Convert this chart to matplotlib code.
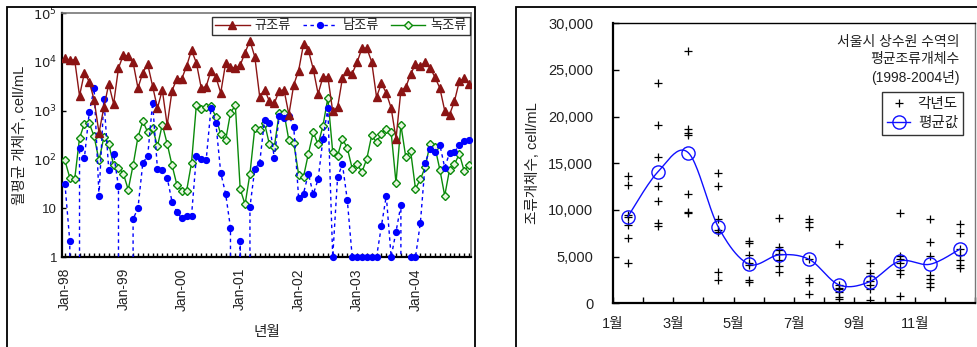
import numpy as np
import matplotlib
matplotlib.use('Agg')
import matplotlib.pyplot as plt
from matplotlib.lines import Line2D
from matplotlib.patches import Rectangle
from matplotlib.ticker import FixedLocator, MultipleLocator, FuncFormatter

plt.rcParams['font.family'] = ['Liberation Sans', 'Noto Sans CJK KR']
TXT = '#222222'

# ---- left: monthly mean counts, Jan-98 .. Dec-04 (84 months) ----
year_ticks = ['Jan-98', 'Jan-99', 'Jan-00', 'Jan-01', 'Jan-02', 'Jan-03', 'Jan-04']

diatom = [12000, 10700, 11000, 2000, 6000, 3900, 1650, 350, 1170, 3500, 1380, 7400,
          13900, 12900, 9700, 2900, 6000, 8900, 3200, 1120, 2650, 500, 2570, 4500,
          4500, 8200, 17300, 9500, 2900, 3100, 6600, 4900, 2300, 9300, 7900, 7300,
          8500, 15500, 27000, 12600, 1940, 2700, 1550, 1400, 2570, 2650, 830, 3400,
          6600, 23000, 17300, 7100, 2200, 4900, 4900, 970, 1170, 4650, 6600, 5750,
          9700, 19000, 19000, 10000, 1900, 3600, 2300, 1130, 265, 2570, 3000, 5600,
          8900, 8300, 9700, 7600, 4800, 2900, 1000, 830, 1550, 4000, 4600, 3500]

bluegreen = [32, 2.1, 0, 173, 107, 930, 2870, 18, 1740, 62, 130, 28,
             0, 0, 6, 10, 85, 117, 1440, 65, 62, 42, 13.5, 8.4,
             6.2, 7, 7, 117, 100, 95, 1130, 560, 53, 20, 4, 0,
             2.1, 0, 10.5, 65, 85, 645, 550, 107, 760, 710, 790, 460,
             16, 20, 51, 19.4, 39, 265, 1120, 1, 44, 79, 14.5, 1,
             1, 1, 1, 1, 1, 4.3, 18, 1, 3.3, 11.5, 0, 1,
             1, 5, 85, 165, 145, 200, 68, 135, 141, 200, 234, 245]

green = [95, 42, 39, 275, 535, 550, 295, 95, 287, 210, 76, 68,
         51, 24, 76, 287, 605, 360, 445, 185, 515, 210, 76, 30,
         23, 23, 85, 1320, 1080, 1170, 1250, 730, 325, 245, 890, 1290,
         24.5, 12, 51, 445, 405, 550, 203, 178, 890, 890, 245, 215,
         49, 44, 130, 360, 203, 490, 1820, 141, 120, 263, 170, 65,
         81, 55, 103, 310, 225, 333, 425, 360, 33, 510, 112, 148,
         25, 39, 70, 210, 178, 62, 18, 62, 79, 130, 58, 76]

# ---- right: yearly values per calendar month and their mean ----
month_labels = ['1월', '', '3월', '', '5월', '', '7월', '', '9월', '', '11월', '', '']
yearly_counts = [
    [13640, 12680, 9500, 9300, 8390, 7030, 4290],
    [23570, 19100, 15710, 12570, 10960, 8640, 8280],
    [27030, 18640, 18280, 18030, 11680, 9750, 9640],
    [14000, 12570, 9000, 7850, 7670, 3390, 2500],
    [6670, 6430, 5180, 4290, 4100, 2500, 2250],
    [9170, 6070, 5710, 5250, 4640, 4000, 3390],
    [9030, 8680, 8210, 4800, 2680, 2320, 1000],
    [6320, 1960, 1610, 1500, 1250, 710, 430],
    [4290, 3280, 2930, 2420, 1960, 1500, 350],
    [9640, 5070, 4710, 4300, 3570, 3140, 780],
    [9030, 6600, 5070, 3030, 2570, 2140, 1710],
    [8500, 7500, 5820, 5180, 4640, 4100, 3750],
]
mean_counts = [9280, 14100, 16140, 8140, 4210, 5180, 4710, 1960, 2310, 4530, 4180, 5820]


def smooth(xs, ys, n=24):
    # excel-like smoothed line (catmull-rom as cubic bezier)
    px = np.r_[xs[0], xs, xs[-1]].astype(float)
    py = np.r_[ys[0], ys, ys[-1]].astype(float)
    ox, oy = [], []
    t = np.linspace(0, 1, n)
    for i in range(1, len(px) - 2):
        for p, o in ((px, ox), (py, oy)):
            b0 = p[i]
            b1 = p[i] + (p[i + 1] - p[i - 1]) / 6
            b2 = p[i + 1] - (p[i + 2] - p[i]) / 6
            b3 = p[i + 1]
            o.extend((1 - t) ** 3 * b0 + 3 * (1 - t) ** 2 * t * b1 + 3 * (1 - t) * t ** 2 * b2 + t ** 3 * b3)
    return ox, oy


fig = plt.figure(figsize=(9.77, 3.47), dpi=100)
W, H = 977.0, 347.0

# panel frames
fig.add_artist(Rectangle((7 / W, -0.1), 468 / W, 1.1 - 7 / H, transform=fig.transFigure,
                         fill=False, lw=1.3, ec='black'))
fig.add_artist(Rectangle((516 / W, -0.1), 0.6, 1.1 - 7 / H, transform=fig.transFigure,
                         fill=False, lw=1.3, ec='black'))

# ---------------- left panel ----------------
ax = fig.add_axes([62 / W, 1 - 257 / H, 409 / W, 244 / H])
x = np.arange(len(diatom))
c_red, c_blue, c_green = '#8b1414', '#0000ff', '#0a8a0a'

ax.plot(x, green, color=c_green, lw=1.0, marker='D', ms=4.2, mfc='#e8f5e0', mec=c_green, mew=1.0, zorder=3)
ax.plot(x, bluegreen, color=c_blue, lw=1.0, ls=(0, (2.5, 2.5)), zorder=4)
bg = np.array(bluegreen, float)
pos = bg > 0
ax.plot(x[pos], bg[pos], ls='none', marker='o', ms=4.2, color=c_blue, clip_on=False, zorder=5)
ax.plot(x, diatom, color=c_red, lw=1.0, marker='^', ms=5.5, zorder=6)

ax.set_yscale('log')
ax.set_ylim(1, 1e5)
ax.set_xlim(-0.6, 83.4)
ax.yaxis.set_major_locator(FixedLocator([1, 10, 100, 1e3, 1e4, 1e5]))
ax.yaxis.set_minor_locator(FixedLocator([]))
ax.set_yticklabels(['1', '10', '$10^2$', '$10^3$', '$10^4$', '$10^5$'])
ax.set_xticks(np.arange(0, 84, 12))
ax.set_xticklabels(year_ticks, rotation=90)
ax.xaxis.set_minor_locator(MultipleLocator(1))
ax.tick_params(axis='both', which='both', direction='in', length=3, width=1, colors='black',
               labelcolor=TXT, labelsize=9.5)
ax.tick_params(axis='x', labelsize=10, pad=8)
for s in ('left', 'bottom'):
    ax.spines[s].set_linewidth(1.6)
for s in ('top', 'right'):
    ax.spines[s].set_color('#777777')
    ax.spines[s].set_linewidth(1.2)
ax.set_ylabel('월평균 개체수, cell/mL', fontsize=10.5, color=TXT, labelpad=4)
ax.set_xlabel('년월', fontsize=10.5, color=TXT, labelpad=10)

handles = [Line2D([], [], color=c_red, lw=1.0, marker='^', ms=5.5),
           Line2D([], [], color=c_blue, lw=1.0, ls=(0, (2.5, 2.5)), marker='o', ms=4.2),
           Line2D([], [], color=c_green, lw=1.0, marker='D', ms=4.2, mfc='#e8f5e0', mec=c_green)]
leg = ax.legend(handles, ['규조류', '남조류', '녹조류'], ncol=3, loc='upper right',
                bbox_to_anchor=(0.998, 0.985), borderaxespad=0, fontsize=9.5, frameon=True,
                fancybox=False, edgecolor='black', handlelength=2.6, handletextpad=0.4,
                columnspacing=0.9, borderpad=0.25, labelcolor=TXT)
leg.get_frame().set_linewidth(1.0)

# ---------------- right panel ----------------
ax2 = fig.add_axes([612.7 / W, 1 - 303.3 / H, 362.6 / W, 280 / H])
for m, vals in enumerate(yearly_counts):
    ax2.plot([m + 1.5] * len(vals), vals, ls='none', marker='+', ms=6, mew=0.9, color='black', zorder=3)
mx = np.arange(1, 13) + 0.5
sx, sy = smooth(mx, mean_counts)
ax2.plot(sx, sy, color='#1010ff', lw=1.0, zorder=4)
ax2.plot(mx, mean_counts, ls='none', marker='o', ms=9.5, mfc='none', mec='#1010ff', mew=1.0, zorder=5)

ax2.set_xlim(1, 13)
ax2.set_ylim(0, 30000)
ax2.set_xticks(np.arange(1, 14))
ax2.set_xticklabels(month_labels)
ax2.yaxis.set_major_locator(MultipleLocator(5000))
ax2.yaxis.set_major_formatter(FuncFormatter(lambda v, p: f'{int(v):,}'))
ax2.tick_params(axis='both', direction='in', length=4, width=1, labelcolor=TXT, labelsize=10.5)
ax2.tick_params(axis='y', pad=14)
ax2.tick_params(axis='x', pad=10)
for s in ('left', 'bottom'):
    ax2.spines[s].set_linewidth(1.6)
ax2.spines['top'].set_linewidth(1.0)
ax2.spines['right'].set_color('#777777')
ax2.spines['right'].set_linewidth(1.0)
ax2.set_ylabel('조류개체수, cell/mL', fontsize=10.5, color=TXT, labelpad=6)

ax2.text(0.957, 0.958, '서울시 상수원 수역의\n평균조류개체수\n(1998-2004년)', transform=ax2.transAxes,
         ha='right', va='top', fontsize=10, color=TXT, linespacing=1.3)
h2 = [Line2D([], [], ls='none', marker='+', ms=6, mew=0.9, color='black'),
      Line2D([], [], color='#1010ff', lw=1.0, marker='o', ms=9.5, mfc='none', mec='#1010ff')]
leg2 = ax2.legend(h2, ['각년도', '평균값'], loc='upper right', bbox_to_anchor=(0.966, 0.756),
                  borderaxespad=0, fontsize=10.5, fancybox=False, edgecolor='black',
                  handlelength=1.6, handletextpad=0.5, borderpad=0.35, labelspacing=0.35,
                  labelcolor=TXT)
leg2.get_frame().set_linewidth(1.0)

fig.savefig('out.png', dpi=100)
